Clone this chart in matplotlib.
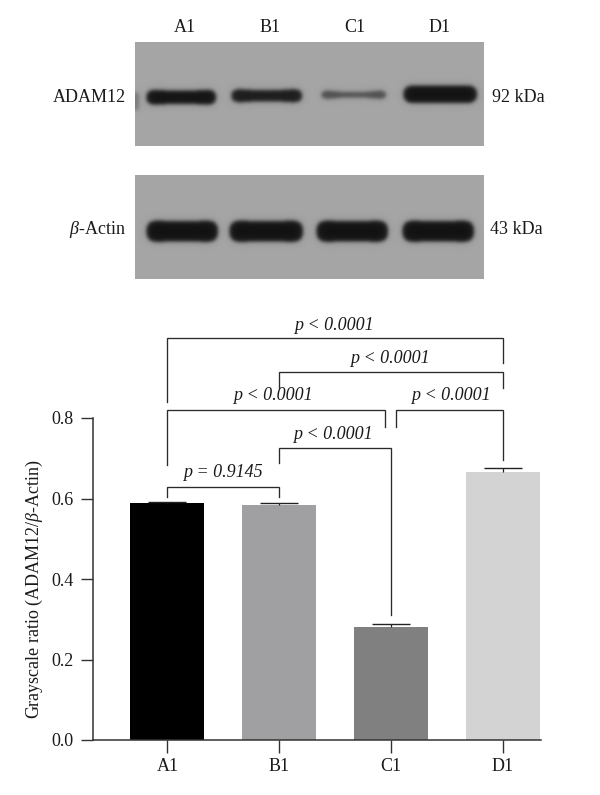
import numpy as np
import matplotlib
matplotlib.use("Agg")
import matplotlib.pyplot as plt

plt.rcParams['font.family'] = ['Liberation Serif', 'DejaVu Serif']
plt.rcParams['mathtext.fontset'] = 'custom'
plt.rcParams['mathtext.rm'] = 'Liberation Serif'
plt.rcParams['mathtext.it'] = 'Liberation Serif:italic'

W, H = 600, 795
FS = 13

# bar data
groups = ['A1', 'B1', 'C1', 'D1']
means = [0.588, 0.585, 0.281, 0.667]
errors = [0.003, 0.003, 0.008, 0.008]
bar_colors = ['#000000', '#a0a0a2', '#808080', '#d3d3d3']
y_ticks = [0.0, 0.2, 0.4, 0.6, 0.8]

# brackets: left x, right x, top, left leg end, right leg end
brackets = [
    (0, 3, 0.998, 0.839, 0.937),
    (1, 3, 0.915, 0.875, 0.875),
    (0, 1.95, 0.820, 0.683, 0.778),
    (2.043, 3, 0.820, 0.778, 0.696),
    (1, 2, 0.726, 0.688, 0.311),
    (0, 1, 0.629, 0.604, 0.604),
]
p_labels = ['p < 0.0001', 'p < 0.0001', 'p < 0.0001', 'p < 0.0001', 'p < 0.0001', 'p = 0.9145']
p_label_x = [1.49, 1.99, 0.945, 2.535, 1.479, 0.494]
p_label_y = [1.031, 0.947, 0.855, 0.855, 0.758, 0.664]

# blot bands: left px, right px, centre y, half thickness at ends, in the middle, darkness
target_bands = [
    (146, 216, 97, 9.0, 6.5, 1.0),
    (231, 302, 95.5, 8.0, 5.5, 0.95),
    (321, 386, 94.5, 5.5, 2.5, 0.62),
    (403, 477, 94, 10.0, 8.5, 1.0),
    (128, 139, 101, 9.0, 9.0, 0.3),
]
actin_bands = [
    (146, 218, 231, 12.0, 10.0, 1.0),
    (229, 303, 231, 12.0, 10.0, 1.0),
    (316, 388, 231, 12.0, 10.0, 1.0),
    (402, 474, 231, 12.0, 10.0, 1.0),
]
lane_names = ['A1', 'B1', 'C1', 'D1']
lane_x = [185, 270, 355, 440]


def px_axes(left, top, right, bottom):
    return fig.add_axes([left / W, 1 - bottom / H, (right - left) / W, (bottom - top) / H])


def blur(img, sigma):
    r = int(3 * sigma)
    k = np.exp(-0.5 * (np.arange(-r, r + 1) / sigma) ** 2)
    k /= k.sum()
    pad = np.pad(img, r, mode='edge')
    pad = np.apply_along_axis(lambda v: np.convolve(v, k, mode='same'), 0, pad)
    pad = np.apply_along_axis(lambda v: np.convolve(v, k, mode='same'), 1, pad)
    return pad[r:-r, r:-r]


def draw_blot(top, bottom, bands, background=165):
    ax = px_axes(135, top, 484, bottom)
    xs = np.arange(135, 484, 0.5)
    ys = np.arange(top, bottom, 0.5)
    X, Y = np.meshgrid(xs, ys)
    signal = np.zeros_like(X)
    for x0, x1, yc, h_end, h_mid, dark in bands:
        u = (X - (x0 + x1) / 2) / ((x1 - x0) / 2)
        half = h_mid + (h_end - h_mid) * np.abs(u) ** 2
        # rounded ends
        half = half * np.sqrt(np.clip(1 - np.abs(u) ** 8, 0, 1))
        inside = (np.abs(u) < 1) & (np.abs(Y - yc) < half)
        signal[inside] = dark
    # sharp core plus a wider halo, in half pixel steps
    signal = 0.8 * blur(signal, 3.5) + 0.2 * blur(signal, 9)
    img = background - (background - 18) * signal
    ax.imshow(img, cmap='gray', vmin=0, vmax=255, aspect='auto',
              extent=(135, 484, bottom, top), interpolation='bilinear')
    ax.axis('off')
    return ax


fig = plt.figure(figsize=(W / 100, H / 100), dpi=100)

draw_blot(42, 146, target_bands)
draw_blot(175, 279, actin_bands)


def label(x, y, s, ha='center', size=FS):
    fig.text(x / W, 1 - y / H, s, ha=ha, va='center', fontsize=size, color='#1a1a1a')


for name, x in zip(lane_names, lane_x):
    label(x, 28, name)
label(126, 97, 'ADAM12', ha='right')
label(492, 97, '92 kDa', ha='left')
label(126, 230, r'$\mathit{\beta}$-Actin', ha='right')
label(490, 230, '43 kDa', ha='left')

# bar chart
ax = px_axes(93.3, 418, 541, 740)
x = np.arange(len(groups))
tops = np.array(means) + np.array(errors)
ax.bar(x, means, width=0.663, color=bar_colors, zorder=2)
ax.vlines(x, means, tops, color='#222222', lw=0.9, zorder=3)
ax.plot(x, tops, ls='none', marker='_', ms=27, mew=1.0, color='#222222', zorder=3, clip_on=False)
ax.set_xlim(-0.664, 3.344)
ax.set_ylim(0, 0.8)
ax.set_xticks(x)
ax.set_xticklabels(groups)
ax.set_yticks(y_ticks)
ax.set_yticklabels(['%.1f' % t for t in y_ticks])
ax.tick_params(axis='both', length=9, width=1.0, color='#333333', labelsize=FS,
               labelcolor='#1a1a1a')
ax.tick_params(axis='x', pad=4)
ax.tick_params(axis='y', pad=5)
for side in ['top', 'right']:
    ax.spines[side].set_visible(False)
for side in ['left', 'bottom']:
    ax.spines[side].set_linewidth(1.1)
    ax.spines[side].set_color('#333333')
ax.set_ylabel(r'Grayscale ratio (ADAM12/$\mathit{\beta}$-Actin)', fontsize=FS,
              color='#1a1a1a', y=0.468, labelpad=5)

for (x0, x1, top, leg0, leg1), s, tx, ty in zip(brackets, p_labels, p_label_x, p_label_y):
    ax.plot([x0, x0, x1, x1], [leg0, top, top, leg1], color='#2a2a2a', lw=0.95,
            clip_on=False, solid_joinstyle='miter', zorder=4)
    ax.text(tx, ty, s, ha='center', va='center', fontsize=FS, style='italic',
            color='#1a1a1a', clip_on=False)

fig.savefig('out.png', dpi=100)
